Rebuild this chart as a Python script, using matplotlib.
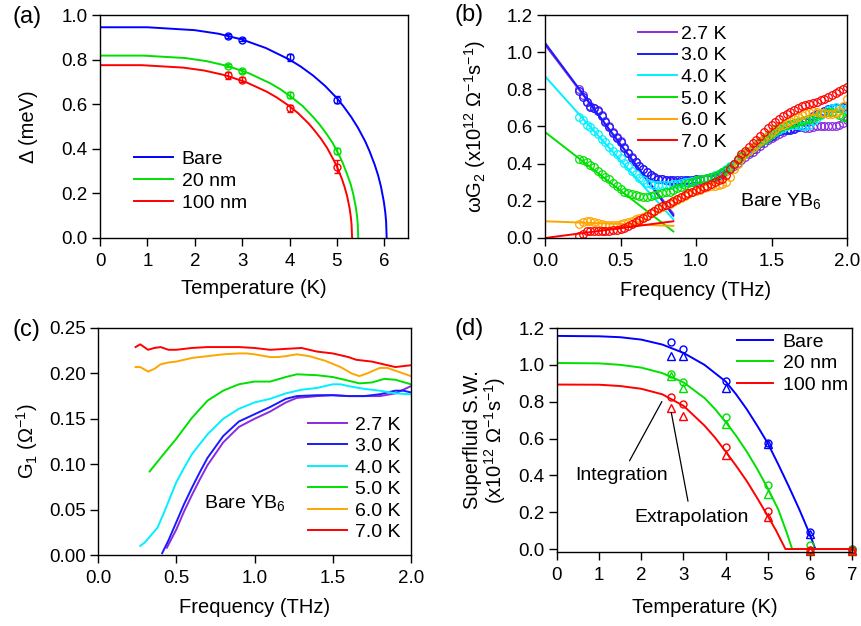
import numpy as np
import matplotlib
matplotlib.use("Agg")
import matplotlib.pyplot as plt
from matplotlib.ticker import FormatStrFormatter

plt.rcParams['font.family'] = ['Liberation Sans', 'DejaVu Sans']
plt.rcParams['mathtext.fontset'] = 'custom'
plt.rcParams['mathtext.rm'] = 'Liberation Sans'
plt.rcParams['mathtext.it'] = 'Liberation Sans'
plt.rcParams['mathtext.default'] = 'regular'

# ---------------- Panel (a) data ----------------
a_T_pts = [2.7, 3.0, 4.0, 5.0]
a_bare_pts = [0.905, 0.890, 0.810, 0.620]
a_bare_err = [0.008, 0.008, 0.015, 0.015]
a_20_pts = [0.773, 0.748, 0.642, 0.390]
a_20_err = [0.008, 0.010, 0.012, 0.015]
a_100_pts = [0.730, 0.710, 0.582, 0.320]
a_100_err = [0.015, 0.010, 0.015, 0.030]

a_bare_fit_T = [0, 1.00, 2.00, 2.50, 3.00, 3.50, 4.00, 4.235, 4.50, 4.75, 5.00, 5.14, 5.30, 5.445, 5.60,
                5.687, 5.80, 5.869, 5.929, 5.990, 6.020, 6.038, 6.05]
a_bare_fit = [0.945, 0.945, 0.932, 0.916, 0.890, 0.852, 0.800, 0.769, 0.728, 0.682, 0.627, 0.590, 0.543,
              0.494, 0.432, 0.390, 0.327, 0.281, 0.231, 0.163, 0.116, 0.074, 0.0]
a_20_fit_T = [0, 0.90, 1.80, 2.25, 2.70, 3.15, 3.60, 3.815, 4.05, 4.28, 4.50, 4.63, 4.77, 4.905, 5.04,
              5.12, 5.22, 5.287, 5.341, 5.396, 5.423, 5.439, 5.45]
a_20_fit = [0.818, 0.818, 0.807, 0.793, 0.771, 0.738, 0.693, 0.666, 0.630, 0.591, 0.542, 0.510, 0.470,
            0.428, 0.374, 0.338, 0.283, 0.243, 0.200, 0.142, 0.101, 0.064, 0.0]
a_100_fit_T = [0, 0.88, 1.76, 2.20, 2.64, 3.08, 3.52, 3.724, 3.96, 4.18, 4.40, 4.52, 4.66, 4.79, 4.92,
               5.00, 5.10, 5.16, 5.214, 5.267, 5.293, 5.309, 5.32]
a_100_fit = [0.775, 0.775, 0.764, 0.751, 0.730, 0.699, 0.656, 0.631, 0.597, 0.560, 0.514, 0.484, 0.446,
             0.405, 0.354, 0.320, 0.268, 0.230, 0.189, 0.134, 0.095, 0.060, 0.0]

# ---------------- Panel (b) data ----------------
b_labels = ['2.7 K', '3.0 K', '4.0 K', '5.0 K', '6.0 K', '7.0 K']
b_colors = ['#8a2be2', '#1a1aff', '#00f0ff', '#00e000', '#ffa500', '#ff0000']
b_f_start = 0.225
b_f_step = 0.025
b_27 = [0.80, 0.77, 0.73, 0.71, 0.70, 0.69, 0.66, 0.63, 0.60, 0.57, 0.545, 0.52, 0.49, 0.46, 0.435, 0.41,
        0.39, 0.37, 0.355, 0.34, 0.33, 0.32, 0.315, 0.31, 0.305, 0.30, 0.30, 0.30, 0.30, 0.30, 0.30, 0.305,
        0.31, 0.315, 0.32, 0.32, 0.325, 0.33, 0.345, 0.36, 0.375, 0.39, 0.405, 0.42, 0.435, 0.45, 0.465, 0.48,
        0.495, 0.51, 0.525, 0.54, 0.55, 0.56, 0.57, 0.58, 0.585, 0.59, 0.595, 0.595, 0.59, 0.59, 0.595, 0.60,
        0.60, 0.605, 0.605, 0.605, 0.605, 0.61, 0.62, 0.635]
b_30 = [0.79, 0.76, 0.73, 0.705, 0.70, 0.685, 0.655, 0.625, 0.595, 0.565, 0.54, 0.515, 0.485, 0.455, 0.43, 0.41,
        0.39, 0.37, 0.355, 0.34, 0.33, 0.32, 0.315, 0.31, 0.31, 0.31, 0.31, 0.31, 0.31, 0.31, 0.31, 0.315,
        0.32, 0.32, 0.325, 0.33, 0.335, 0.34, 0.35, 0.365, 0.38, 0.40, 0.42, 0.435, 0.45, 0.465, 0.48, 0.495,
        0.51, 0.525, 0.54, 0.55, 0.565, 0.575, 0.58, 0.58, 0.58, 0.585, 0.595, 0.61, 0.625, 0.64, 0.655, 0.665,
        0.675, 0.685, 0.695, 0.70, 0.70, 0.70, 0.705, 0.71]
b_40 = [0.65, 0.635, 0.61, 0.595, 0.575, 0.56, 0.535, 0.515, 0.49, 0.47, 0.45, 0.43, 0.405, 0.385, 0.36, 0.345,
        0.325, 0.31, 0.295, 0.29, 0.285, 0.285, 0.285, 0.285, 0.285, 0.29, 0.29, 0.295, 0.30, 0.30, 0.305, 0.31,
        0.315, 0.32, 0.325, 0.33, 0.34, 0.345, 0.355, 0.37, 0.385, 0.40, 0.42, 0.44, 0.455, 0.47, 0.485, 0.50,
        0.515, 0.53, 0.545, 0.56, 0.57, 0.58, 0.59, 0.60, 0.61, 0.61, 0.61, 0.60, 0.60, 0.61, 0.63, 0.645,
        0.66, 0.675, 0.69, 0.70, 0.705, 0.70, 0.695, 0.69]
b_50 = [0.425, 0.42, 0.41, 0.395, 0.38, 0.36, 0.345, 0.33, 0.315, 0.295, 0.28, 0.265, 0.25, 0.24, 0.235, 0.23,
        0.225, 0.22, 0.22, 0.225, 0.23, 0.235, 0.24, 0.245, 0.25, 0.26, 0.27, 0.275, 0.285, 0.295, 0.30, 0.31,
        0.315, 0.32, 0.325, 0.33, 0.335, 0.345, 0.355, 0.365, 0.38, 0.40, 0.42, 0.44, 0.455, 0.47, 0.485, 0.50,
        0.515, 0.53, 0.545, 0.56, 0.575, 0.59, 0.60, 0.61, 0.615, 0.62, 0.625, 0.63, 0.635, 0.64, 0.645, 0.655,
        0.665, 0.675, 0.68, 0.68, 0.67, 0.66, 0.65, 0.645]
b_60 = [0.075, 0.085, 0.09, 0.09, 0.085, 0.08, 0.075, 0.072, 0.07, 0.07, 0.072, 0.075, 0.08, 0.085, 0.09, 0.10,
        0.105, 0.115, 0.125, 0.135, 0.145, 0.155, 0.165, 0.175, 0.185, 0.195, 0.205, 0.215, 0.225, 0.235, 0.245, 0.255,
        0.26, 0.27, 0.275, 0.28, 0.28, 0.285, 0.29, 0.30, 0.33, 0.37, 0.40, 0.43, 0.45, 0.47, 0.485, 0.50,
        0.52, 0.54, 0.555, 0.57, 0.585, 0.60, 0.61, 0.62, 0.63, 0.64, 0.65, 0.66, 0.67, 0.68, 0.685, 0.68,
        0.675, 0.67, 0.665, 0.665, 0.67, 0.685, 0.71, 0.75]
b_70 = [0.01, 0.02, 0.035, 0.04, 0.04, 0.035, 0.035, 0.04, 0.04, 0.045, 0.045, 0.05, 0.055, 0.065, 0.075, 0.085,
        0.095, 0.11, 0.12, 0.135, 0.145, 0.16, 0.17, 0.18, 0.19, 0.20, 0.21, 0.22, 0.23, 0.24, 0.25, 0.26,
        0.265, 0.275, 0.28, 0.29, 0.30, 0.31, 0.32, 0.34, 0.37, 0.40, 0.425, 0.45, 0.47, 0.49, 0.51, 0.53,
        0.55, 0.57, 0.59, 0.61, 0.625, 0.64, 0.655, 0.665, 0.68, 0.69, 0.70, 0.71, 0.715, 0.72, 0.725, 0.73,
        0.74, 0.75, 0.76, 0.77, 0.78, 0.79, 0.80, 0.81]
b_series = [b_27, b_30, b_40, b_50, b_60, b_70]
# linear extrapolation fits (endpoints at 0 and 0.85 THz)
b_fit_f = [0.0, 0.85]
b_fits = [[1.04, 0.13], [1.05, 0.12], [0.87, 0.10], [0.57, 0.035], [0.09, 0.065], [0.0, 0.09]]

# ---------------- Panel (c) data ----------------
c_27_f = [0.44, 0.5, 0.55, 0.6, 0.65, 0.7, 0.8, 0.9, 1.0, 1.1, 1.2, 1.27, 1.4, 1.5, 1.6, 1.7, 1.8, 1.9, 2.0]
c_27 = [0.008, 0.028, 0.048, 0.066, 0.083, 0.099, 0.124, 0.141, 0.150, 0.158, 0.168, 0.173, 0.175, 0.176, 0.175, 0.175, 0.175, 0.178, 0.186]
c_30_f = [0.41, 0.45, 0.5, 0.55, 0.6, 0.65, 0.7, 0.8, 0.9, 1.0, 1.1, 1.2, 1.27, 1.4, 1.5, 1.6, 1.7, 1.8, 1.9, 1.95, 2.0]
c_30 = [0.002, 0.016, 0.036, 0.056, 0.074, 0.091, 0.107, 0.131, 0.147, 0.155, 0.163, 0.172, 0.175, 0.176, 0.176, 0.175, 0.175, 0.177, 0.181, 0.181, 0.179]
c_40_f = [0.27, 0.3, 0.33, 0.38, 0.42, 0.46, 0.5, 0.55, 0.6, 0.7, 0.8, 0.9, 1.0, 1.1, 1.2, 1.3, 1.4, 1.5, 1.55, 1.6, 1.7, 1.8, 1.9, 2.0]
c_40 = [0.010, 0.014, 0.020, 0.030, 0.046, 0.063, 0.080, 0.096, 0.111, 0.133, 0.150, 0.161, 0.168, 0.172, 0.178, 0.182, 0.184, 0.188, 0.188, 0.186, 0.183, 0.181, 0.178, 0.177]
c_50_f = [0.33, 0.4, 0.5, 0.6, 0.7, 0.8, 0.9, 1.0, 1.1, 1.2, 1.27, 1.4, 1.5, 1.6, 1.67, 1.75, 1.83, 1.9, 2.0]
c_50 = [0.092, 0.107, 0.128, 0.151, 0.170, 0.181, 0.188, 0.191, 0.191, 0.196, 0.199, 0.198, 0.196, 0.192, 0.189, 0.190, 0.194, 0.193, 0.188]
c_60_f = [0.24, 0.27, 0.32, 0.36, 0.4, 0.45, 0.5, 0.6, 0.7, 0.8, 0.9, 0.95, 1.0, 1.1, 1.15, 1.2, 1.27, 1.35, 1.45, 1.55, 1.62, 1.67, 1.72, 1.8, 1.85, 1.9, 2.0]
c_60 = [0.207, 0.207, 0.202, 0.205, 0.210, 0.212, 0.213, 0.217, 0.219, 0.221, 0.222, 0.222, 0.221, 0.218, 0.218, 0.219, 0.221, 0.219, 0.214, 0.207, 0.200, 0.197, 0.200, 0.206, 0.206, 0.203, 0.197]
c_70_f = [0.24, 0.27, 0.32, 0.36, 0.4, 0.45, 0.5, 0.6, 0.7, 0.8, 0.9, 1.0, 1.1, 1.2, 1.3, 1.4, 1.5, 1.6, 1.65, 1.75, 1.85, 1.9, 1.95, 2.0]
c_70 = [0.229, 0.232, 0.226, 0.228, 0.229, 0.226, 0.226, 0.228, 0.229, 0.229, 0.229, 0.228, 0.226, 0.227, 0.228, 0.224, 0.222, 0.218, 0.215, 0.213, 0.209, 0.207, 0.208, 0.209]
c_f = [c_27_f, c_30_f, c_40_f, c_50_f, c_60_f, c_70_f]
c_series = [c_27, c_30, c_40, c_50, c_60, c_70]

# ---------------- Panel (d) data ----------------
d_T_pts = [2.7, 3.0, 4.0, 5.0, 6.0, 7.0]
d_bare_int = [1.125, 1.085, 0.915, 0.575, 0.090, 0.000]
d_bare_ext = [1.050, 1.050, 0.875, 0.570, 0.080, -0.005]
d_20_int = [0.950, 0.905, 0.715, 0.350, 0.020, 0.000]
d_20_ext = [0.940, 0.875, 0.680, 0.300, -0.005, -0.005]
d_100_int = [0.825, 0.790, 0.555, 0.205, -0.005, -0.005]
d_100_ext = [0.765, 0.720, 0.510, 0.175, -0.010, -0.010]
d_bare_fit_T = [0, 1.0, 1.5, 2.0, 2.5, 3.0, 3.5, 4.0, 4.25, 4.5, 4.75, 5.0, 5.25, 5.5, 5.75, 6.0, 6.13, 7.0]
d_bare_fit = [1.157, 1.155, 1.150, 1.137, 1.110, 1.065, 1.000, 0.910, 0.840, 0.760, 0.670, 0.575, 0.460,
              0.340, 0.215, 0.080, 0.0, 0.0]
d_20_fit_T = [0, 1.0, 1.5, 2.0, 2.5, 3.0, 3.5, 3.75, 4.0, 4.25, 4.5, 4.75, 5.0, 5.25, 5.45, 5.58, 7.0]
d_20_fit = [1.010, 1.008, 1.000, 0.985, 0.955, 0.905, 0.820, 0.760, 0.690, 0.615, 0.530, 0.435, 0.330,
            0.215, 0.090, 0.0, 0.0]
d_100_fit_T = [0, 1.0, 1.5, 2.0, 2.5, 3.0, 3.5, 3.75, 4.0, 4.25, 4.5, 4.75, 5.0, 5.2, 5.42, 7.0]
d_100_fit = [0.893, 0.892, 0.885, 0.870, 0.840, 0.778, 0.670, 0.605, 0.530, 0.452, 0.370, 0.277, 0.180,
             0.100, 0.0, 0.0]

trio_labels = ['Bare', '20 nm', '100 nm']
trio_colors = ['#0000ff', '#00e000', '#ff0000']

TICK = 13.5
LAB = 14.5
LEG = 14
TXT = 14

fig = plt.figure(figsize=(8.61, 6.26), dpi=100)
W, H = 861, 626
def add_ax(l, t, r, b):
    return fig.add_axes([l / W, 1 - b / H, (r - l) / W, (b - t) / H])

axA = add_ax(100, 15, 408, 238)
axB = add_ax(545, 15, 847, 238)
axC = add_ax(98, 328, 411, 555)
axD = add_ax(557, 328, 852, 552)

for ax in (axA, axB, axC, axD):
    ax.tick_params(direction='out', length=6, width=1, labelsize=TICK,
                   top=False, right=False)
    ax.tick_params(axis='x', pad=5)
    ax.tick_params(axis='y', pad=3)
    for s in ax.spines.values():
        s.set_linewidth(1.0)

leg_kw = dict(frameon=False, fontsize=LEG, borderpad=0, borderaxespad=0, loc='upper left')

# ---- (a)
for T, fit, pts, err, col, lab in [
        (a_bare_fit_T, a_bare_fit, a_bare_pts, a_bare_err, trio_colors[0], trio_labels[0]),
        (a_20_fit_T, a_20_fit, a_20_pts, a_20_err, trio_colors[1], trio_labels[1]),
        (a_100_fit_T, a_100_fit, a_100_pts, a_100_err, trio_colors[2], trio_labels[2])]:
    axA.plot(T, fit, color=col, lw=1.4, label=lab)
    axA.errorbar(a_T_pts, pts, yerr=err, fmt='o', mfc='none', mec=col, ecolor=col,
                 ms=5, mew=1.0, capsize=2.5, elinewidth=1.0)
axA.set_xlim(0, 6.5)
axA.set_ylim(0, 1.0)
axA.set_xticks(range(0, 7))
axA.set_yticks(np.arange(0, 1.01, 0.2))
axA.yaxis.set_major_formatter(FormatStrFormatter('%.1f'))
axA.set_xlabel('Temperature (K)', fontsize=LAB)
axA.set_ylabel('Δ (meV)', fontsize=LAB)
axA.xaxis.set_label_coords(0.5, -0.185)
axA.yaxis.set_label_coords(-0.20, 0.5)
axA.legend(bbox_to_anchor=(0.110, 0.395), handlelength=2.0, handletextpad=0.45,
           labelspacing=0.24, **leg_kw)

# ---- (b)
for vals, fit, col, lab in zip(b_series, b_fits, b_colors, b_labels):
    f = b_f_start + b_f_step * np.arange(len(vals))
    axB.plot(b_fit_f, fit, color=col, lw=1.4, label=lab)
    axB.plot(f, vals, 'o', mfc='none', mec=col, ms=5.5, mew=0.9)
axB.set_xlim(0, 2.0)
axB.set_ylim(0, 1.2)
axB.set_xticks(np.arange(0, 2.01, 0.5))
axB.set_yticks(np.arange(0, 1.21, 0.2))
axB.xaxis.set_major_formatter(FormatStrFormatter('%.1f'))
axB.yaxis.set_major_formatter(FormatStrFormatter('%.1f'))
axB.set_xlabel('Frequency (THz)', fontsize=LAB)
axB.set_ylabel(r'ωG$_2$ (x10$^{12}$ Ω$^{-1}$s$^{-1}$)', fontsize=LAB)
axB.xaxis.set_label_coords(0.5, -0.195)
axB.yaxis.set_label_coords(-0.19, 0.5)
axB.text(1.29, 0.197, r'Bare YB$_6$', fontsize=TXT, va='center', ha='left')
axB.legend(bbox_to_anchor=(0.308, 0.955), handlelength=2.0, handletextpad=0.2,
           labelspacing=0.21, **leg_kw)

# ---- (c)
for f, vals, col, lab in zip(c_f, c_series, b_colors, b_labels):
    axC.plot(f, vals, color=col, lw=1.4, label=lab)
axC.set_xlim(0, 2.0)
axC.set_ylim(0, 0.25)
axC.set_xticks(np.arange(0, 2.01, 0.5))
axC.set_yticks(np.arange(0, 0.251, 0.05))
axC.xaxis.set_major_formatter(FormatStrFormatter('%.1f'))
axC.yaxis.set_major_formatter(FormatStrFormatter('%.2f'))
axC.set_xlabel('Frequency (THz)', fontsize=LAB)
axC.set_ylabel(r'G$_1$ (Ω$^{-1}$)', fontsize=LAB)
axC.xaxis.set_label_coords(0.5, -0.19)
axC.yaxis.set_label_coords(-0.185, 0.5)
axC.text(0.68, 0.057, r'Bare YB$_6$', fontsize=TXT, va='center', ha='left')
axC.legend(bbox_to_anchor=(0.671, 0.612), handlelength=2.0, handletextpad=0.4,
           labelspacing=0.2, **leg_kw)

# ---- (d)
for T, fit, ints, exts, col, lab in [
        (d_bare_fit_T, d_bare_fit, d_bare_int, d_bare_ext, trio_colors[0], trio_labels[0]),
        (d_20_fit_T, d_20_fit, d_20_int, d_20_ext, trio_colors[1], trio_labels[1]),
        (d_100_fit_T, d_100_fit, d_100_int, d_100_ext, trio_colors[2], trio_labels[2])]:
    axD.plot(T, fit, color=col, lw=1.4, label=lab)
    axD.plot(d_T_pts, ints, 'o', mfc='none', mec=col, ms=5, mew=1.0, clip_on=False)
    axD.plot(d_T_pts, exts, '^', mfc='none', mec=col, ms=5.5, mew=1.0, clip_on=False)
axD.set_xlim(0, 7)
axD.set_ylim(-0.016, 1.2)
axD.set_xticks(range(0, 8))
axD.set_yticks(np.arange(0, 1.21, 0.2))
axD.yaxis.set_major_formatter(FormatStrFormatter('%.1f'))
axD.set_xlabel('Temperature (K)', fontsize=LAB)
axD.set_ylabel('Superfluid S.W.\n' + r'(x10$^{12}$ Ω$^{-1}$s$^{-1}$)', fontsize=LAB,
               linespacing=1.0)
axD.xaxis.set_label_coords(0.5, -0.205)
axD.yaxis.set_label_coords(-0.166, 0.5)
axD.annotate('', xy=(2.52, 0.814), xytext=(1.69, 0.466),
             arrowprops=dict(arrowstyle='-', color='black', lw=0.9))
axD.annotate('', xy=(2.70, 0.756), xytext=(3.12, 0.245),
             arrowprops=dict(arrowstyle='-', color='black', lw=0.9))
axD.text(0.43, 0.40, 'Integration', fontsize=TXT, va='center', ha='left')
axD.text(1.83, 0.169, 'Extrapolation', fontsize=TXT, va='center', ha='left')
axD.legend(bbox_to_anchor=(0.610, 0.978), handlelength=1.85, handletextpad=0.5,
           labelspacing=0.21, **leg_kw)

# panel labels
for txt, x, y in [('(a)', 12, 17), ('(b)', 455, 15), ('(c)', 12, 330), ('(d)', 455, 329)]:
    fig.text(x / W, 1 - y / H, txt, fontsize=17, va='center', ha='left')

fig.savefig('out.png', dpi=100)
